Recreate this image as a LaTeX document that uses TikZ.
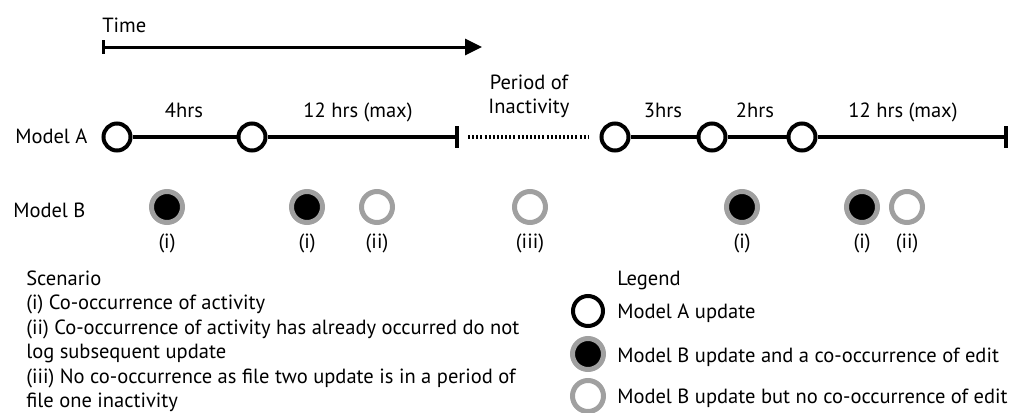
\documentclass[tikz,border=0pt]{standalone}
\usepackage{fontspec}
\setmainfont{PT Sans}
\usetikzlibrary{arrows.meta}
\definecolor{ringgray}{RGB}{160,160,160}
\tikzset{
	txt/.style={inner sep=0pt,font=\fontsize{15.4}{18}\selectfont},
	updA/.style={circle,draw=black,line width=3pt,fill=white,minimum size=20.25pt,inner sep=0pt},
	updB/.style={circle,draw=ringgray,line width=3.75pt,fill=black,minimum size=23.25pt,inner sep=0pt},
	noB/.style={updB,fill=white},
	tline/.style={line width=3pt},
}

\begin{document}
\begin{tikzpicture}[x=0.75pt,y=0.75pt,yscale=-1,xscale=1]
	\useasboundingbox (0,0) rectangle (1015,412);
	
	% Text Node
	\node[txt,anchor=base west] (time) at (102,32) {Time};
	%Straight Lines
	\coordinate (t0) at (102,47);
	\coordinate (t1) at (482,47);
	\draw[line width=2.25pt,{Bar[width=10pt]}-{Triangle[length=12.75pt,width=12pt]}] (t0) -- (t1);
	
	% Text Node
	\node[txt,anchor=base west] (lblA) at (15,143.5) {Model A};
	%Shape: Circle
	\node[updA] (a1) at (117,137) {};
	\node[updA] (a2) at (252,137) {};
	\coordinate (endA) at (459,137);
	\node[updA] (a3) at (615,137) {};
	\node[updA] (a4) at (712,137) {};
	\node[updA] (a5) at (802,137) {};
	\coordinate (endB) at (1008,137);
	
	%Straight Lines
	\draw[tline] (a1) -- (a2);
	\draw[tline,-{Bar[width=16.5pt]}] (a2) -- (endA);
	\draw[line width=2.6pt,dash pattern=on 1.5pt off 1.6pt,shorten <=6.75pt,shorten >=8.6pt] (endA) -- (a3);
	\draw[tline] (a3) -- (a4);
	\draw[tline] (a4) -- (a5);
	\draw[tline,-{Bar[width=16.5pt]}] (a5) -- (endB);
	
	% Text Node
	\node[txt,anchor=base] (gap1) at (184,117) {4hrs};
	\node[txt,anchor=base] (gap2) at (358,117) {12 hrs (max)};
	\node[txt,anchor=base] (idle1) at (529,89) {Period of};
	\node[txt,anchor=base] (idle2) at (529,113) {Inactivity};
	\node[txt,anchor=base] (gap3) at (663,117) {3hrs};
	\node[txt,anchor=base] (gap4) at (755,117) {2hrs};
	\node[txt,anchor=base] (gap5) at (903,117) {12 hrs (max)};
	
	% Text Node
	\node[txt,anchor=base west] (lblB) at (13,217) {Model B};
	%Shape: Circle
	\node[updB] (b1) at (167,207) {};
	\node[updB] (b2) at (307,207) {};
	\node[noB] (b3) at (377,207) {};
	\node[noB] (b4) at (530,207) {};
	\node[updB] (b5) at (742,207) {};
	\node[updB] (b6) at (862,207) {};
	\node[noB] (b7) at (907,207) {};
	
	% Text Node
	\node[txt,anchor=base] (c1) at (167,248) {(i)};
	\node[txt,anchor=base] (c2) at (307,248) {(i)};
	\node[txt,anchor=base] (c3) at (377,248) {(ii)};
	\node[txt,anchor=base] (c4) at (530,248) {(iii)};
	\node[txt,anchor=base] (c5) at (742,248) {(i)};
	\node[txt,anchor=base] (c6) at (862,248) {(i)};
	\node[txt,anchor=base] (c7) at (907,248) {(ii)};
	
	% Text Node
	\node[txt,anchor=base west] (sc0) at (26,285) {Scenario};
	\node[txt,anchor=base west] (sc1) at (26,309.5) {(i) Co-occurrence of activity};
	\node[txt,anchor=base west] (sc2) at (26,334) {(ii) Co-occurrence of activity has already occurred do not};
	\node[txt,anchor=base west] (sc3) at (26,358.5) {log subsequent update};
	\node[txt,anchor=base west] (sc4) at (26,383) {(iii) No co-occurrence as file two update is in a period of};
	\node[txt,anchor=base west] (sc5) at (26,407) {file one inactivity};
	
	% Text Node
	\node[txt,anchor=base west] (leg) at (617,285) {Legend};
	%Shape: Circle
	\node[updA,minimum size=22.5pt] (ka) at (588,311) {};
	\node[updB] (kb) at (588,354) {};
	\node[noB] (kc) at (588,396) {};
	% Text Node
	\node[txt,anchor=base west] (kat) at (617,318) {Model A update};
	\node[txt,anchor=base west] (kbt) at (617,362) {Model B update and a co-occurrence of edit};
	\node[txt,anchor=base west] (kct) at (617,403) {Model B update but no co-occurrence of edit};
	
\end{tikzpicture}
\end{document}
